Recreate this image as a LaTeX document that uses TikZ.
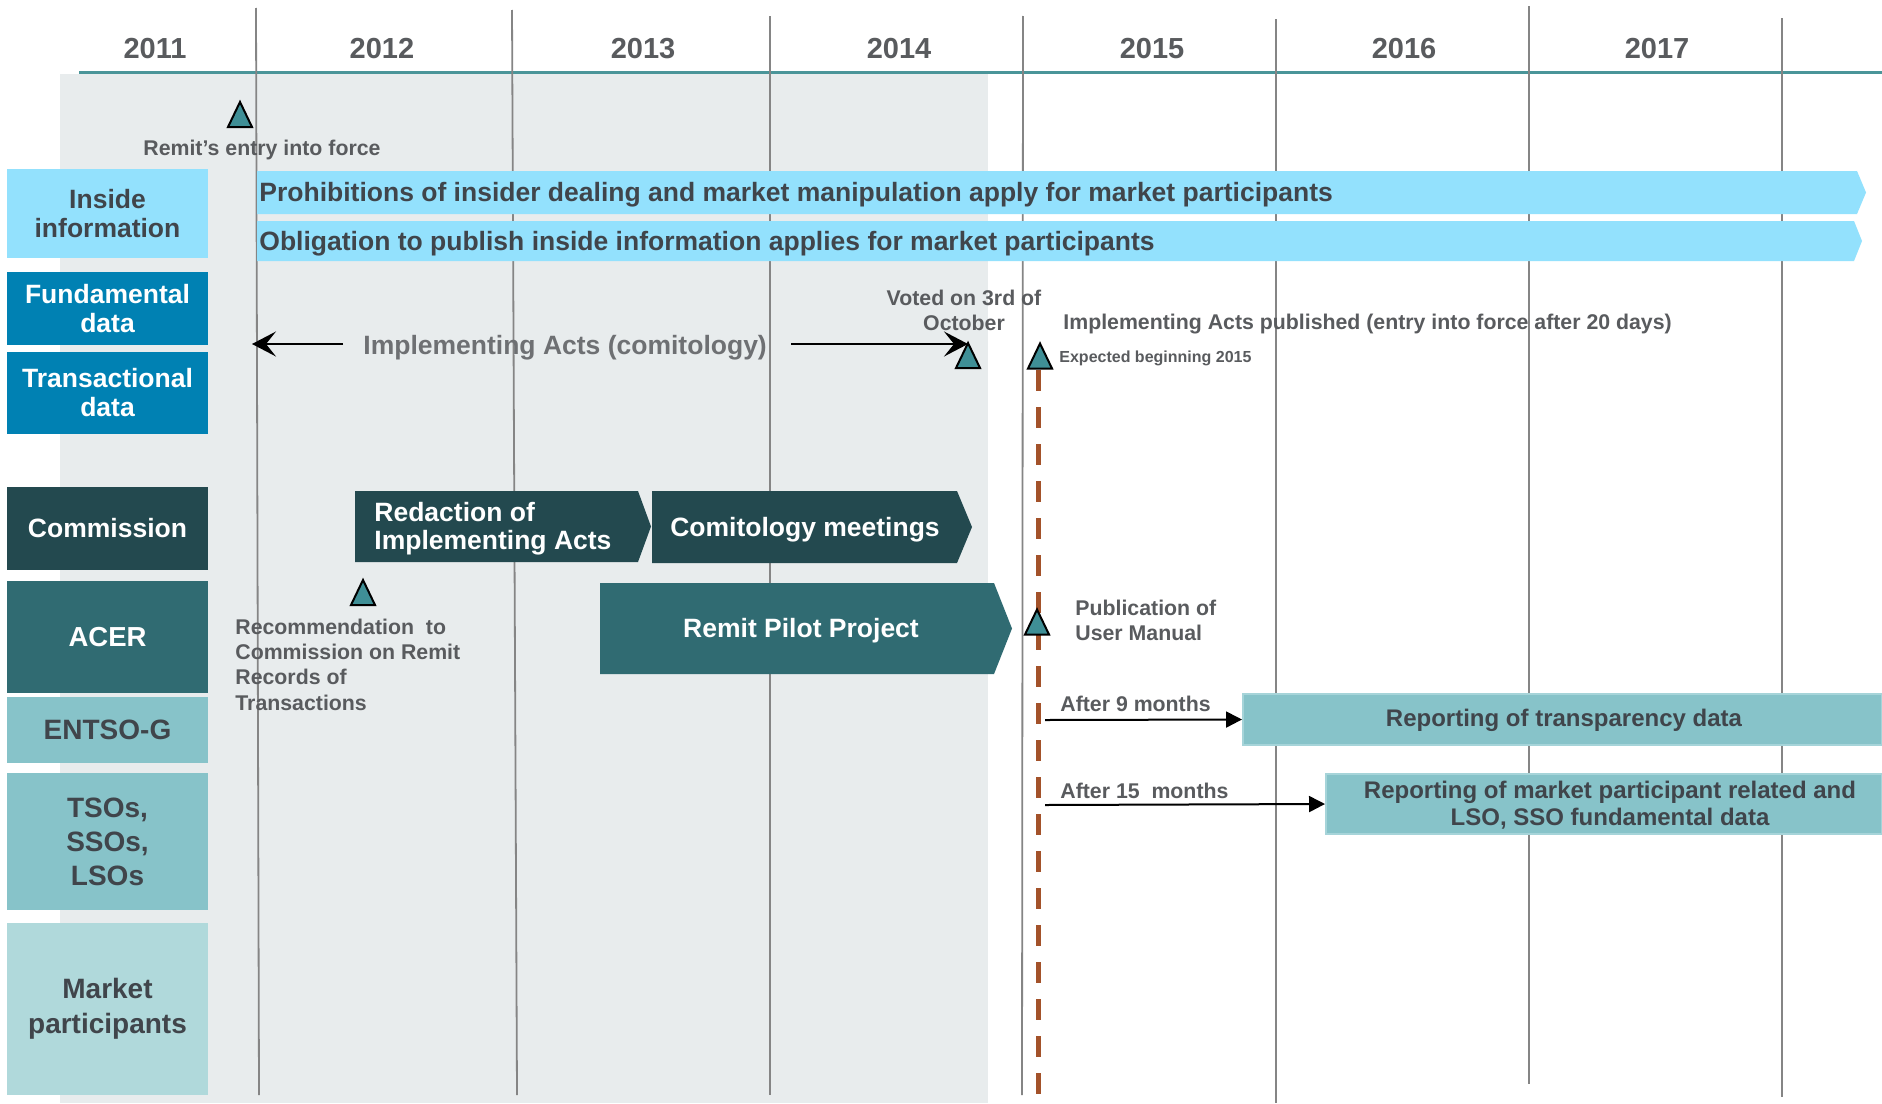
\documentclass[tikz,border=0pt]{standalone}
\usepackage{fontspec}
\setmainfont{Liberation Sans}
\usetikzlibrary{arrows.meta}
\definecolor{bggray}{HTML}{E8ECED}
\definecolor{yearline}{HTML}{4A9599}
\definecolor{vline}{HTML}{858585}
\definecolor{cyanbox}{HTML}{93E1FD}
\definecolor{bluebox}{HTML}{0081B3}
\definecolor{darkteal}{HTML}{23494F}
\definecolor{midteal}{HTML}{306B72}
\definecolor{lightteal}{HTML}{87C3C9}
\definecolor{lighttealline}{HTML}{A6D4D9}
\definecolor{paleteal}{HTML}{B0D9DB}
\definecolor{trifill}{HTML}{3F8F96}
\definecolor{dashbrown}{HTML}{A3522A}
\definecolor{txtdark}{HTML}{40454B}
\definecolor{txtgray}{HTML}{595B5E}
\definecolor{txtlight}{HTML}{6E7073}
\begin{document}
\begin{tikzpicture}[x=0.5pt,y=-0.5pt,
  yeartxt/.style={font=\bfseries\fontsize{14.5pt}{16pt}\selectfont, text=txtgray, inner sep=0pt, yshift=-1.2pt},
  rowlbl/.style={font=\bfseries\fontsize{13.25pt}{14.5pt}\selectfont, align=center, inner sep=0pt, minimum width=100.5pt},
  rowlblb/.style={rowlbl, font=\bfseries\fontsize{14pt}{17pt}\selectfont, text=txtdark},
  bartxt/.style={font=\bfseries\fontsize{13.25pt}{15pt}\selectfont, text=txtdark, inner sep=0pt, anchor=west, yshift=-1.3pt},
  wtxt/.style={font=\bfseries\fontsize{13.25pt}{14pt}\selectfont, text=white, inner sep=0pt, yshift=-1.2pt},
  ann/.style={font=\bfseries\fontsize{10.65pt}{12.7pt}\selectfont, text=txtgray, inner sep=0pt},
  repbox/.style={fill=lightteal, draw=lighttealline, line width=1pt, inner sep=0pt},
  reptxt/.style={font=\bfseries\fontsize{12pt}{13.5pt}\selectfont, text=txtdark, align=center, inner sep=0pt},
  comarrow/.style={line width=1pt, -{Stealth[length=12pt,width=12.5pt,inset=5pt]}},
  reparrow/.style={line width=1pt, -{Triangle[length=8pt,width=8pt]}},
  milestone/.pic={\draw[fill=trifill, line width=1pt, line join=miter] (-12,12.5) -- (0,-12.5) -- (12,12.5) -- cycle;}
]
\useasboundingbox (0,0) rectangle (1882,1103);
\fill[white] (0,0) rectangle (1882,1103);
% shaded past
\fill[bggray] (60,74) rectangle (988,1103);
% year axis
\draw[yearline, line width=1.5pt] (79,72.5) -- (1882,72.5);
\foreach \xa/\ya/\xb/\yb in {256/8/259/1095, 512/10/517/1095, 770/16/770/1095, 1023/16/1022/1095, 1276/19/1276/1103, 1529/6/1529/1084, 1782/18/1782/1097}
  \draw[vline, line width=0.9pt] (\xa,\ya) -- (\xb,\yb);
\node[yeartxt] (y2011) at (155,46) {2011};
\node[yeartxt] (y2012) at (382,46) {2012};
\node[yeartxt] (y2013) at (643,46) {2013};
\node[yeartxt] (y2014) at (899,46) {2014};
\node[yeartxt] (y2015) at (1152,46) {2015};
\node[yeartxt] (y2016) at (1404,46) {2016};
\node[yeartxt] (y2017) at (1657,46) {2017};
% row labels
\node[rowlbl, fill=cyanbox, text=txtdark, minimum height=44.5pt] (inside) at (107.5,213.5) {Inside\\information};
\node[rowlbl, fill=bluebox, text=white, minimum height=36.5pt] (fund) at (107.5,308.5) {Fundamental\\data};
\node[rowlbl, fill=bluebox, text=white, minimum height=41pt] (trans) at (107.5,393) {Transactional\\data};
\node[rowlbl, fill=darkteal, text=white, minimum height=41.5pt] (comm) at (107.5,528.5) {Commission};
\node[rowlbl, fill=midteal, text=white, minimum height=56pt, font=\bfseries\fontsize{13.75pt}{15pt}\selectfont] (acer) at (107.5,637) {ACER};
\node[rowlblb, fill=lightteal, minimum height=33pt] (entsog) at (107.5,730) {ENTSO-G};
\node[rowlblb, fill=lightteal, minimum height=68.5pt] (tsos) at (107.5,841.5) {TSOs,\\SSOs,\\LSOs};
\node[rowlblb, fill=paleteal, minimum height=86pt, font=\bfseries\fontsize{14pt}{17.5pt}\selectfont] (mpart) at (107.5,1009) {Market\\participants};
% inside information bars
\fill[cyanbox] (257,171) -- (1857,171) -- (1866,192.5) -- (1857,214) -- (257,214) -- cycle;
\fill[cyanbox] (257,221) -- (1854,221) -- (1862,241) -- (1854,261) -- (257,261) -- cycle;
\node[bartxt] (bar1) at (259,192.5) {Prohibitions of insider dealing and market manipulation apply for market participants};
\node[bartxt] (bar2) at (259,241) {Obligation to publish inside information applies for market participants};
% commission / acer chevrons
\fill[darkteal] (355,491) -- (638,491) -- (651,526.5) -- (638,562) -- (355,562) -- cycle;
\fill[darkteal] (652,491) -- (957,491) -- (972,527) -- (957,563) -- (652,563) -- cycle;
\fill[midteal] (600,583) -- (994,583) -- (1012,628.5) -- (994,674) -- (600,674) -- cycle;
\node[wtxt, anchor=west, align=left] (redac) at (374,526) {Redaction of\\Implementing Acts};
\node[wtxt] (comit) at (805,527) {Comitology meetings};
\node[wtxt] (pilot) at (801,628) {Remit Pilot Project};
% reporting boxes
\node[repbox, minimum width=319.5pt, minimum height=25.5pt] (transp) at (1562.5,719.5) {};
\node[reptxt] (transpt) at (1564,720.5) {Reporting of transparency data};
\node[repbox, minimum width=278pt, minimum height=30pt] (mkt) at (1604,804) {};
\node[reptxt] (mktt) at (1610,805) {Reporting of market participant related and\\LSO, SSO fundamental data};
% annotations
\node[ann, anchor=west, yshift=-1.2pt] (remit) at (143,148) {Remit’s entry into force};
\node[font=\bfseries\fontsize{13.25pt}{15pt}\selectfont, text=txtlight, inner sep=0pt, anchor=west, yshift=-0.6pt] (impl) at (363,346) {Implementing Acts (comitology)};
\node[ann, align=center] (voted) at (964,310.5) {Voted on 3rd of\\October};
\node[ann, anchor=west, yshift=-1.2pt] (publ) at (1063,322) {Implementing Acts published (entry into force after 20 days)};
\node[font=\bfseries\fontsize{8pt}{9.6pt}\selectfont, text=txtgray, inner sep=0pt, anchor=west, yshift=-0.6pt] (expct) at (1059,357) {Expected beginning 2015};
\node[ann, anchor=west, align=left] (recom) at (235,664.5) {Recommendation\ \ to\\Commission on Remit\\Records of\\Transactions};
\node[ann, anchor=west, align=left] (pubman) at (1075,620.5) {Publication of\\User Manual};
\node[ann, anchor=west] (af9) at (1060,704) {After 9 months};
\node[ann, anchor=west] (af15) at (1060,791) {After 15\ \ months};
% connectors
\coordinate (cl0) at (343,344);
\coordinate (cl1) at (252,344);
\coordinate (cr0) at (791,344);
\coordinate (cr1) at (968,344);
\coordinate (a9) at (1045,720);
\coordinate (a15) at (1045,805);
\draw[comarrow] (cl0) -- (cl1);
\draw[comarrow] (cr0) -- (cr1);
\draw[reparrow] (a9) -- (transp.west);
\draw[reparrow] (a15) -- (mkt.west);
% dashed go-live line
\draw[dashbrown, line width=2.5pt, dash pattern=on 10.5pt off 8pt] (1038.5,370) -- (1038.5,1100);
% milestones
\pic at (240,114.5) {milestone};
\pic at (363,592.5) {milestone};
\pic at (968,355.5) {milestone};
\pic at (1040,356) {milestone};
\pic at (1037,622) {milestone};
\end{tikzpicture}
\end{document}
